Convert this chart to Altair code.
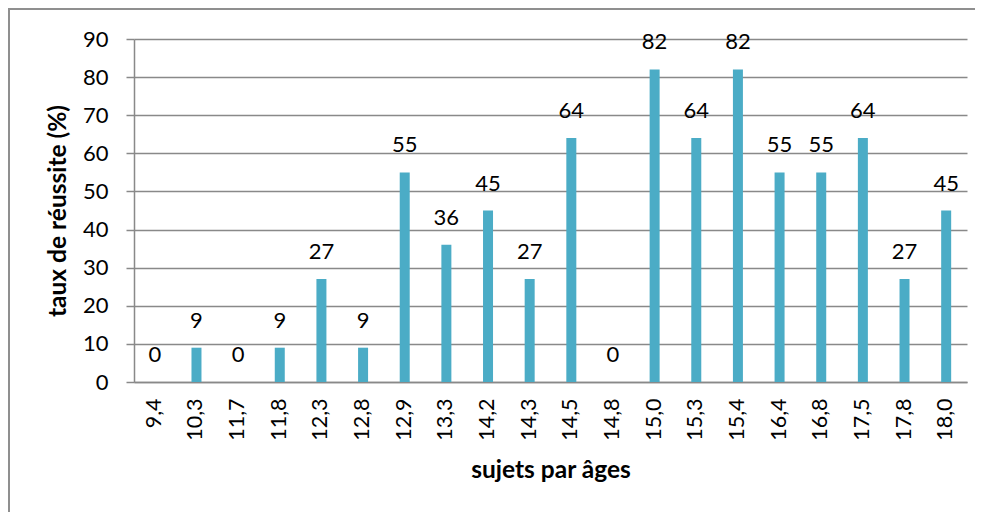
import altair as alt
import pandas as pd

ages = ["9,4", "10,3", "11,7", "11,8", "12,3", "12,8", "12,9", "13,3", "14,2", "14,3",
        "14,5", "14,8", "15,0", "15,3", "15,4", "16,4", "16,8", "17,5", "17,8", "18,0"]
taux = [0, 9, 0, 9, 27, 9, 55, 36, 45, 27, 64, 0, 82, 64, 82, 55, 55, 64, 27, 45]

df = pd.DataFrame({"age": ages, "taux": taux})

FONT = "Lato"
GRID = "#898989"
BORDER = "#8f8f8f"

x_enc = alt.X("age:N", sort=ages, title="sujets par âges",
              scale=alt.Scale(paddingInner=0, paddingOuter=0),
              axis=alt.Axis(labelAngle=-90, labelAlign="right", labelBaseline="middle",
                            labelPadding=16, ticks=False, domainColor=GRID, domainWidth=1.5,
                            labelFontSize=21.5, labelFont=FONT, labelColor="black",
                            labelOverlap=False,
                            titleFont=FONT, titleFontSize=24.5, titleFontWeight="bold",
                            titlePadding=18, titleColor="black"))
y_enc = alt.Y("taux:Q", title="taux de réussite (%)",
              scale=alt.Scale(domain=[0, 90]),
              axis=alt.Axis(values=list(range(0, 91, 10)), tickSize=8, tickColor=GRID,
                            tickWidth=1.5, domainColor=GRID, domainWidth=1.5,
                            gridColor=GRID, gridWidth=1.5, labelPadding=18,
                            labelOverlap=False,
                            labelFontSize=22, labelFont=FONT, labelColor="black",
                            titleFont=FONT, titleFontSize=24.5, titleFontWeight="bold",
                            titlePadding=12, titleColor="black"))

base = alt.Chart(df).encode(x=x_enc, y=y_enc)
bars = base.mark_bar(size=10, color="#4BACC6")
labels = base.mark_text(dy=-20, baseline="alphabetic", fontSize=22,
                        font=FONT, color="black").encode(text="taux:Q")

border_left = alt.Chart(df).mark_rule(color=BORDER, strokeWidth=2).encode(
    x=alt.value(-125), y=alt.value(-30), y2=alt.value(480))
border_top = alt.Chart(df).mark_rule(color=BORDER, strokeWidth=2).encode(
    x=alt.value(-126), x2=alt.value(860), y=alt.value(-30))

chart = alt.layer(bars, labels, border_left, border_top).properties(
    width=833, height=343,
    autosize=alt.AutoSizeParams(type="none"),
    padding={"left": 126, "top": 31, "right": 8, "bottom": 130},
).configure_view(stroke=None)

chart.save("out.html", embed_options={"renderer": "svg", "actions": False})
